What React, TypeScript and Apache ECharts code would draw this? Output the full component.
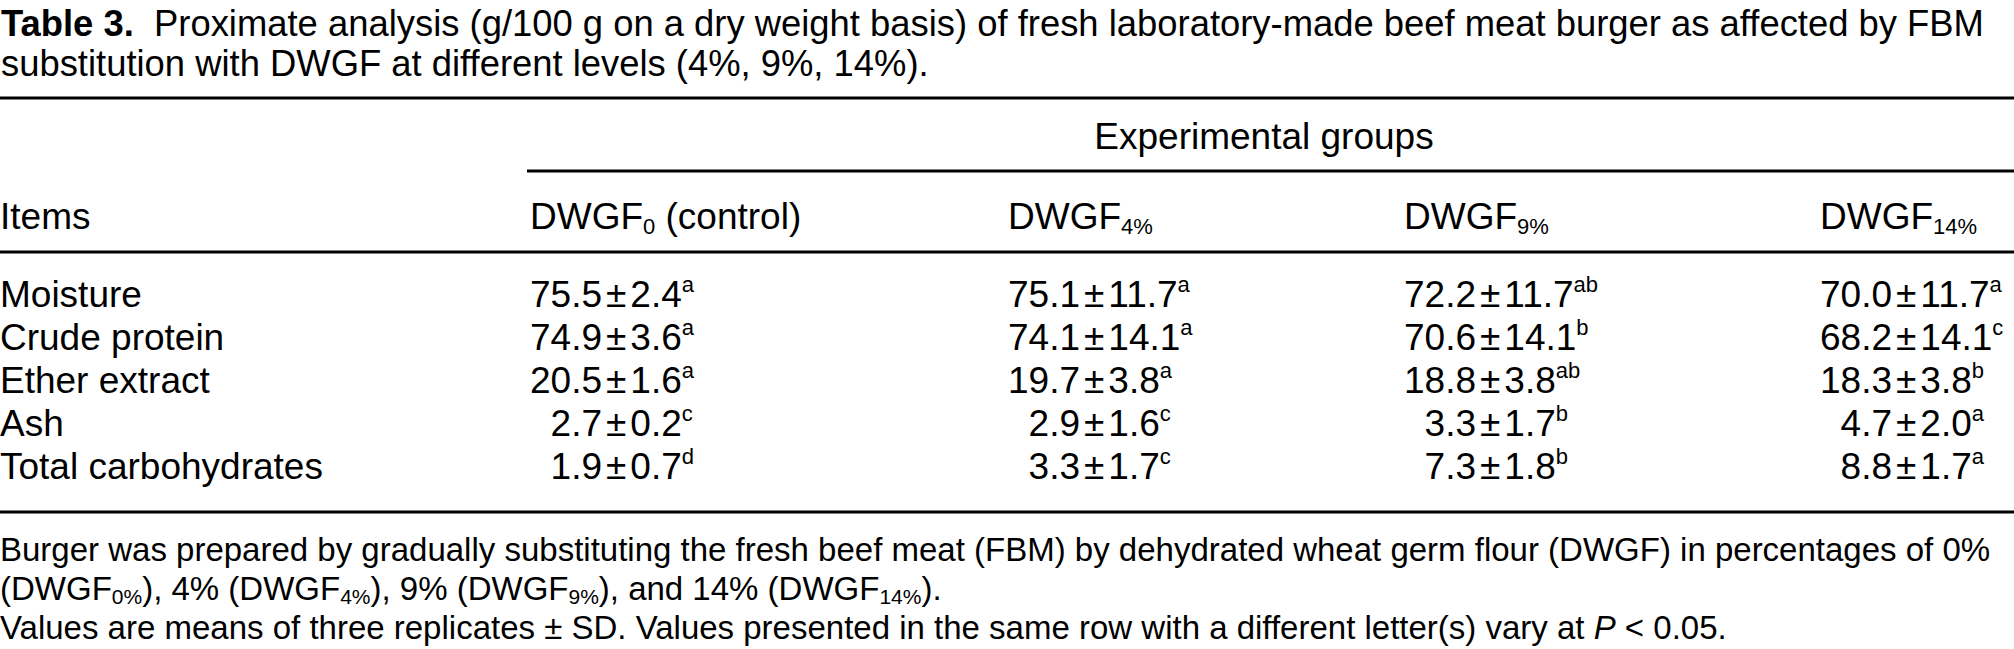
import React, { useEffect, useRef } from "react";
import * as echarts from "echarts";

// ---------- data ----------
const TITLE_LABEL = "Table 3.";
const TITLE_LINE1 =
  "Proximate analysis (g/100 g on a dry weight basis) of fresh laboratory-made beef meat burger as affected by FBM";
const TITLE_LINE2 = "substitution with DWGF at different levels (4%, 9%, 14%).";
const SPANNER = "Experimental groups";
const STUB_HEADER = "Items";
const GROUP_BASE = "DWGF";
const GROUP_SUBS = ["0", "4%", "9%", "14%"];
const GROUP_SUFFIX = [" (control)", "", "", ""];
const ITEMS = ["Moisture", "Crude protein", "Ether extract", "Ash", "Total carbohydrates"];

const MEAN_0 = [75.5, 74.9, 20.5, 2.7, 1.9];
const SD_0 = [2.4, 3.6, 1.6, 0.2, 0.7];
const LET_0 = ["a", "a", "a", "c", "d"];
const MEAN_4 = [75.1, 74.1, 19.7, 2.9, 3.3];
const SD_4 = [11.7, 14.1, 3.8, 1.6, 1.7];
const LET_4 = ["a", "a", "a", "c", "c"];
const MEAN_9 = [72.2, 70.6, 18.8, 3.3, 7.3];
const SD_9 = [11.7, 14.1, 3.8, 1.7, 1.8];
const LET_9 = ["ab", "b", "ab", "b", "b"];
const MEAN_14 = [70.0, 68.2, 18.3, 4.7, 8.8];
const SD_14 = [11.7, 14.1, 3.8, 2.0, 1.7];
const LET_14 = ["a", "c", "b", "a", "a"];

const FOOT_LINE1 =
  "Burger was prepared by gradually substituting the fresh beef meat (FBM) by dehydrated wheat germ flour (DWGF) in percentages of 0%";
const FOOT_PCTS = ["0%", "4%", "9%", "14%"];
const FOOT_LINE3A =
  "Values are means of three replicates ± SD. Values presented in the same row with a different letter(s) vary at ";
const FOOT_LINE3B = "P";
const FOOT_LINE3C = " < 0.05.";

// ---------- layout ----------
const W = 2014;
const H = 649;
const FONT = "'Liberation Sans', Arial, Helvetica, sans-serif";
const BODY = 37;
const SUP = 22;
const FOOT = 33;
const TITLE = 36.4;
const LH = 42;
const COL_X = [530, 1008, 1404, 1820];
const HEAD_Y = 216;
const ROW_Y = [294, 337, 380, 423, 466];

const fmt = (v: number) => v.toFixed(1);

function cell(mean: number, sd: number, letter: string) {
  const m = fmt(mean);
  const pad = m.split(".")[0].length < 2 ? "{pad|0}" : "";
  return `${pad}{n|${m}}{pm|±}{n|${fmt(sd)}}{sup|${letter}}`;
}

const bodyRich = {
  n: { fontSize: BODY, fontFamily: FONT, fill: "#000", lineHeight: LH },
  h: { fontSize: BODY, fontFamily: FONT, fill: "#000", lineHeight: LH },
  pad: { fontSize: BODY, fontFamily: FONT, fill: "rgba(0,0,0,0)", lineHeight: LH },
  pm: { fontSize: BODY, fontFamily: FONT, fill: "#000", lineHeight: LH, padding: [0, 4, 0, 4] },
  sup: { fontSize: SUP, fontFamily: FONT, fill: "#000", verticalAlign: "top", lineHeight: 21 },
  sub: { fontSize: SUP, fontFamily: FONT, fill: "#000", verticalAlign: "bottom", lineHeight: 19 },
};

const footRich = {
  f: { fontSize: FOOT, fontFamily: FONT, fill: "#000", lineHeight: 38 },
  i: { fontSize: FOOT, fontFamily: FONT, fill: "#000", lineHeight: 38, fontStyle: "italic" },
  s: { fontSize: 21, fontFamily: FONT, fill: "#000", verticalAlign: "bottom", lineHeight: 19 },
};

function txt(x: number, y: number, text: string, rich: any, extra: any = {}) {
  return {
    type: "text",
    x,
    y,
    silent: true,
    style: {
      text,
      rich,
      fontSize: BODY,
      fontFamily: FONT,
      fill: "#000",
      align: "left",
      verticalAlign: "middle",
      ...extra,
    },
  };
}

function rule(y: number, x1 = 0, x2 = W, w = 3) {
  return {
    type: "line",
    silent: true,
    shape: { x1, y1: y, x2, y2: y },
    style: { stroke: "#000", lineWidth: w },
  };
}

function buildOption() {
  const means = [MEAN_0, MEAN_4, MEAN_9, MEAN_14];
  const sds = [SD_0, SD_4, SD_9, SD_14];
  const lets = [LET_0, LET_4, LET_9, LET_14];
  const els: any[] = [];

  const titleRich = {
    b: { fontSize: TITLE, fontFamily: FONT, fontWeight: "bold", fill: "#000", lineHeight: 38 },
    t: { fontSize: TITLE, fontFamily: FONT, fill: "#000", lineHeight: 38 },
  };
  els.push(txt(1, 23, `{b|${TITLE_LABEL}}{t|  ${TITLE_LINE1}}`, titleRich));
  els.push(txt(1, 63, `{t|${TITLE_LINE2}}`, titleRich));

  els.push(rule(98));
  els.push(txt(1264, 136, `{h|${SPANNER}}`, bodyRich, { align: "center" }));
  els.push(rule(171, 527, W));

  els.push(txt(0, HEAD_Y, `{h|${STUB_HEADER}}`, bodyRich));
  GROUP_SUBS.forEach((s, j) => {
    const suffix = GROUP_SUFFIX[j] ? `{h|${GROUP_SUFFIX[j]}}` : "";
    els.push(txt(COL_X[j], HEAD_Y, `{h|${GROUP_BASE}}{sub|${s}}${suffix}`, bodyRich));
  });
  els.push(rule(252));

  ITEMS.forEach((item, i) => {
    els.push(txt(0, ROW_Y[i], `{h|${item}}`, bodyRich));
    for (let j = 0; j < 4; j++) {
      els.push(txt(COL_X[j], ROW_Y[i], cell(means[j][i], sds[j][i], lets[j][i]), bodyRich));
    }
  });
  els.push(rule(512));

  els.push(txt(0, 549, `{f|${FOOT_LINE1}}`, footRich));
  const parts = FOOT_PCTS.map((p, k) => {
    const lead = k === 0 ? "(" : k === FOOT_PCTS.length - 1 ? `, and ${p} (` : `, ${p} (`;
    return `{f|${lead}${GROUP_BASE}}{s|${p}}{f|)}`;
  }).join("");
  els.push(txt(0, 588, parts + "{f|.}", footRich));
  els.push(txt(0, 627, `{f|${FOOT_LINE3A}}{i|${FOOT_LINE3B}}{f|${FOOT_LINE3C}}`, footRich));

  return {
    animation: false,
    backgroundColor: "#fff",
    graphic: { elements: els },
  };
}

export default function App() {
  const ref = useRef<HTMLDivElement>(null);
  useEffect(() => {
    if (!ref.current) return;
    const chart = echarts.init(ref.current, undefined, { renderer: "svg" });
    chart.setOption(buildOption() as any);
    return () => chart.dispose();
  }, []);
  return (
    <div
      ref={ref}
      style={{ position: "fixed", left: 0, top: 0, width: W, height: H, background: "#fff" }}
    />
  );
}
